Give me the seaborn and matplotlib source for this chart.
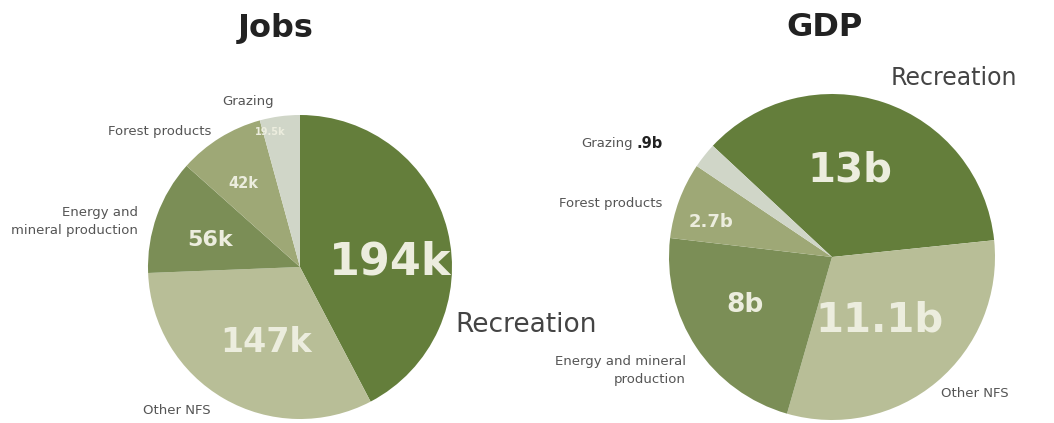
import matplotlib
matplotlib.use("Agg")
import matplotlib.pyplot as plt
import seaborn as sns

sns.set_theme(style="white")
plt.rcParams['font.family'] = ['DejaVu Sans']

categories = ["Recreation", "Other NFS", "Energy and mineral production", "Forest products", "Grazing"]
jobs_values = [194, 147, 56, 42, 19.5]
jobs_labels = ["194k", "147k", "56k", "42k", "19.5k"]
gdp_values = [13, 11.1, 8, 2.7, 0.9]
gdp_labels = ["13b", "11.1b", "8b", "2.7b", ".9b"]

palette = sns.color_palette(["#647e3b", "#b8be97", "#7b8e56", "#9ea876", "#d0d6c8"])

W, H = 1054, 423
fig = plt.figure(figsize=(W / 100, H / 100), dpi=100)
fig.patch.set_facecolor("white")

def fx(x):
    return x / W

def fy(y):
    return 1 - y / H

def pie_axes(cx, cy, r):
    return fig.add_axes([fx(cx - r), fy(cy + r), 2 * r / W, 2 * r / H])

inner_col = "#ecedde"
outer_col = "#555555"
small = 9.5

# Jobs pie
ax1 = pie_axes(300, 267, 152)
ax1.pie(jobs_values, colors=palette, startangle=90, counterclock=False,
        wedgeprops=dict(linewidth=0), radius=1)
ax1.set_xlim(-1, 1); ax1.set_ylim(-1, 1); ax1.set_aspect("equal"); ax1.axis("off")

# GDP pie
ax2 = pie_axes(832, 257, 163)
ax2.pie(gdp_values, colors=palette, startangle=137, counterclock=False,
        wedgeprops=dict(linewidth=0), radius=1)
ax2.set_xlim(-1, 1); ax2.set_ylim(-1, 1); ax2.set_aspect("equal"); ax2.axis("off")

# Titles
fig.text(fx(276), fy(28), "Jobs", ha="center", va="center", fontsize=23, fontweight="bold", color="#222222")
fig.text(fx(825), fy(28), "GDP", ha="center", va="center", fontsize=23, fontweight="bold", color="#222222")

# Jobs inner labels
inner_jobs = [(390, 262, 32), (266, 343, 24), (210, 240, 16), (243, 183, 10.5), (270, 132, 7)]
for (x, y, s), lab in zip(inner_jobs, jobs_labels):
    fig.text(fx(x), fy(y), lab, ha="center", va="center", fontsize=s, fontweight="bold",
             color=inner_col)

# Jobs outer labels
fig.text(fx(248), fy(102), categories[4], ha="center", va="center", fontsize=small, color=outer_col)
fig.text(fx(211), fy(131), categories[3], ha="right", va="center", fontsize=small, color=outer_col)
fig.text(fx(138), fy(221), "Energy and\nmineral production", ha="right", va="center", fontsize=small,
         color=outer_col, linespacing=1.5)
fig.text(fx(177), fy(410), categories[1], ha="center", va="center", fontsize=small, color=outer_col)
fig.text(fx(455), fy(325), categories[0], ha="left", va="center", fontsize=19, color="#444444")

# GDP inner labels
inner_gdp = [(850, 170, 29), (880, 320, 29), (745, 305, 19), (711, 222, 13)]
for (x, y, s), lab in zip(inner_gdp, gdp_labels[:4]):
    fig.text(fx(x), fy(y), lab, ha="center", va="center", fontsize=s, fontweight="bold",
             color=inner_col)

# GDP outer labels
fig.text(fx(891), fy(78), categories[0], ha="left", va="center", fontsize=17, color="#444444")
fig.text(fx(633), fy(143), categories[4], ha="right", va="center", fontsize=small, color=outer_col)
fig.text(fx(637), fy(143), gdp_labels[4], ha="left", va="center", fontsize=10.5, fontweight="bold",
         color="#222222")
fig.text(fx(662), fy(203), categories[3], ha="right", va="center", fontsize=small, color=outer_col)
fig.text(fx(686), fy(370), "Energy and mineral\nproduction", ha="right", va="center", fontsize=small,
         color=outer_col, linespacing=1.5)
fig.text(fx(975), fy(393), categories[1], ha="center", va="center", fontsize=small, color=outer_col)

fig.savefig("out.png", dpi=100, facecolor="white")
